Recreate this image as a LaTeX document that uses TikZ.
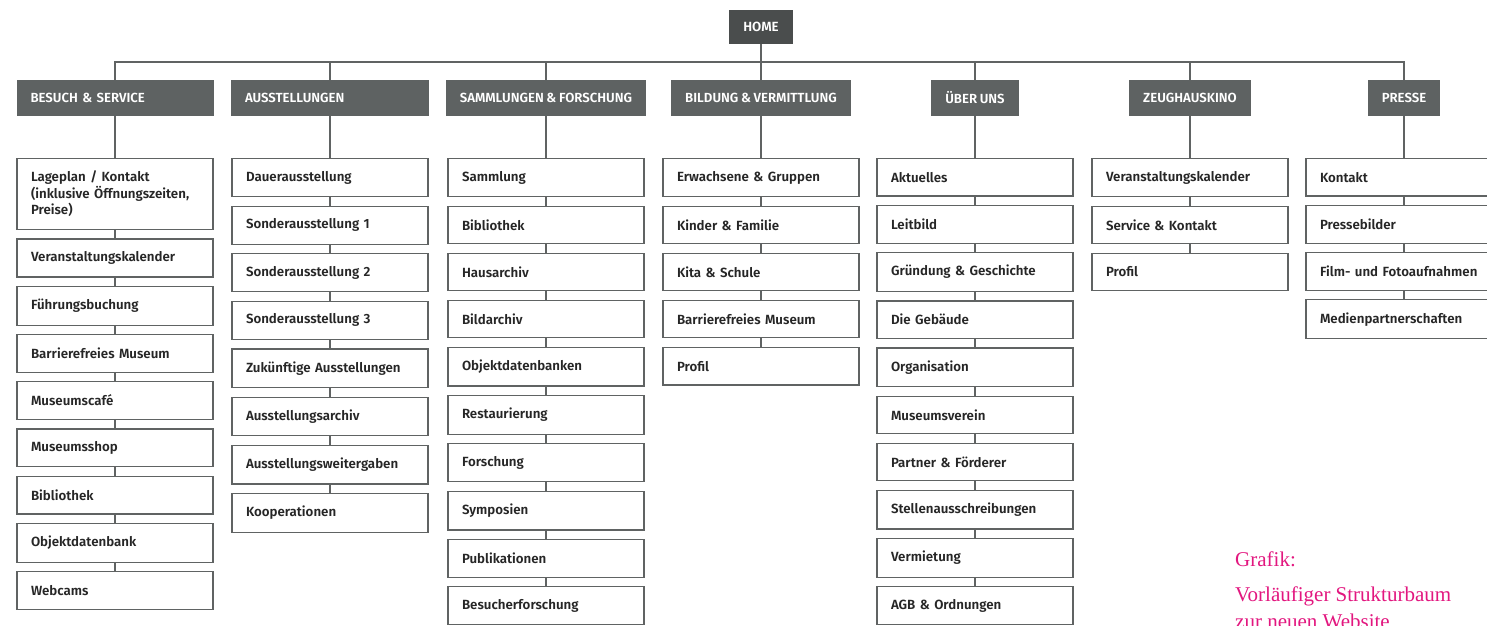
\documentclass[tikz,border=0pt]{standalone}
\usepackage{fontspec}
\setmainfont{Fira Sans}[BoldFont={Fira Sans SemiBold}]
\newfontfamily\notefont{Liberation Serif}
\usetikzlibrary{positioning}
\definecolor{homegray}{RGB}{74,77,77}
\definecolor{headgray}{RGB}{94,98,98}
\definecolor{linegray}{RGB}{96,99,99}
\definecolor{notepink}{RGB}{226,23,127}
\newcommand\tightspace{\spaceskip 0.2em\relax}
\tikzset{
    homebox/.style={fill=homegray, text=white, font=\fontsize{13.3}{15}\selectfont\bfseries, minimum width=64pt, minimum height=34pt, inner sep=0pt},
    headbox/.style={fill=headgray, text=white, font=\fontsize{13.2}{15}\selectfont\bfseries\tightspace, minimum height=36.5pt, inner xsep=14pt, align=left},
    itembox/.style={draw=linegray, line width=1.2pt, fill=white, font=\fontsize{13.3}{16.5}\selectfont\bfseries\tightspace, text=black!85, text width=168pt, align=left, inner xsep=14pt, inner ysep=12.5pt, minimum height=37.5pt},
    link/.style={draw=linegray, line width=1.3pt}
}

\begin{document}
\begin{tikzpicture}[x=1pt, y=-1pt, node distance=8.4pt]
    \useasboundingbox (0,0) rectangle (1487,625);
    \clip (0,0) rectangle (1487,625);

    % top level
    \node[homebox] (home) at (761,27) {HOME};
    \node[headbox, text width=169pt] (besuch) at (115,98) {BESUCH \& SERVICE};
    \node[headbox, text width=170pt] (ausst) at (330,98) {AUSSTELLUNGEN};
    \node[headbox] (samml) at (546,98) {SAMMLUNGEN \& FORSCHUNG};
    \node[headbox] (bildung) at (761,98) {BILDUNG \& VERMITTLUNG};
    \node[headbox] (ueber) at (975,98) {ÜBER UNS};
    \node[headbox] (kino) at (1190,98) {ZEUGHAUSKINO};
    \node[headbox] (presse) at (1404,98) {PRESSE};

    \coordinate (trunk) at (761,62);
    \draw[link] (home) -- (bildung);
    \draw[link] (besuch.north) |- (trunk) -| (presse.north);
    \foreach \h in {ausst, samml, ueber, kino}
        \draw[link] (\h.north) -- (\h.north |- trunk);

    % besuch & service
    \node[itembox, below=41.5pt of besuch] (besuch-1) {Lageplan / Kontakt\\(inklusive Öffnungszeiten,\\Preise)};
    \draw[link] (besuch) -- (besuch-1);
    \foreach \txt [count=\i from 2, remember=\i as \j (initially 1)] in {Veranstaltungskalender, Führungsbuchung, Barrierefreies Museum, Museumscafé, Museumsshop, Bibliothek, Objektdatenbank, Webcams} {
        \node[itembox, below=of besuch-\j] (besuch-\i) {\txt};
        \draw[link] (besuch-\j) -- (besuch-\i);
    }

    % ausstellungen
    \node[itembox, below=41.5pt of ausst] (ausst-1) {Dauerausstellung};
    \draw[link] (ausst) -- (ausst-1);
    \foreach \txt [count=\i from 2, remember=\i as \j (initially 1)] in {Sonderausstellung 1, Sonderausstellung 2, Sonderausstellung 3, Zukünftige Ausstellungen, Ausstellungsarchiv, Ausstellungsweitergaben, Kooperationen} {
        \node[itembox, below=of ausst-\j] (ausst-\i) {\txt};
        \draw[link] (ausst-\j) -- (ausst-\i);
    }

    % sammlungen & forschung
    \node[itembox, below=41.5pt of samml] (samml-1) {Sammlung};
    \draw[link] (samml) -- (samml-1);
    \foreach \txt [count=\i from 2, remember=\i as \j (initially 1)] in {Bibliothek, Hausarchiv, Bildarchiv, Objektdatenbanken, Restaurierung, Forschung, Symposien, Publikationen, Besucherforschung} {
        \node[itembox, below=of samml-\j] (samml-\i) {\txt};
        \draw[link] (samml-\j) -- (samml-\i);
    }

    % bildung & vermittlung
    \node[itembox, below=41.5pt of bildung] (bildung-1) {Erwachsene \& Gruppen};
    \draw[link] (bildung) -- (bildung-1);
    \foreach \txt [count=\i from 2, remember=\i as \j (initially 1)] in {Kinder \& Familie, Kita \& Schule, Barrierefreies Museum, Profil} {
        \node[itembox, below=of bildung-\j] (bildung-\i) {\txt};
        \draw[link] (bildung-\j) -- (bildung-\i);
    }

    % ueber uns
    \node[itembox, below=41.5pt of ueber] (ueber-1) {Aktuelles};
    \draw[link] (ueber) -- (ueber-1);
    \foreach \txt [count=\i from 2, remember=\i as \j (initially 1)] in {Leitbild, Gründung \& Geschichte, Die Gebäude, Organisation, Museumsverein, Partner \& Förderer, Stellenausschreibungen, Vermietung, AGB \& Ordnungen} {
        \node[itembox, below=of ueber-\j] (ueber-\i) {\txt};
        \draw[link] (ueber-\j) -- (ueber-\i);
    }

    % zeughauskino
    \node[itembox, below=41.5pt of kino] (kino-1) {Veranstaltungskalender};
    \draw[link] (kino) -- (kino-1);
    \foreach \txt [count=\i from 2, remember=\i as \j (initially 1)] in {Service \& Kontakt, Profil} {
        \node[itembox, below=of kino-\j] (kino-\i) {\txt};
        \draw[link] (kino-\j) -- (kino-\i);
    }

    % presse
    \node[itembox, below=41.5pt of presse] (presse-1) {Kontakt};
    \draw[link] (presse) -- (presse-1);
    \foreach \txt [count=\i from 2, remember=\i as \j (initially 1)] in {Pressebilder, Film- und Fotoaufnahmen, Medienpartnerschaften} {
        \node[itembox, below=of presse-\j] (presse-\i) {\txt};
        \draw[link] (presse-\j) -- (presse-\i);
    }

    \node[anchor=north west, align=left, text=notepink, font=\notefont\fontsize{21}{27}\selectfont, inner sep=0pt] (note) at (1235,551) {Grafik:\\[8pt]Vorläufiger Strukturbaum\\zur neuen Website};
\end{tikzpicture}
\end{document}
